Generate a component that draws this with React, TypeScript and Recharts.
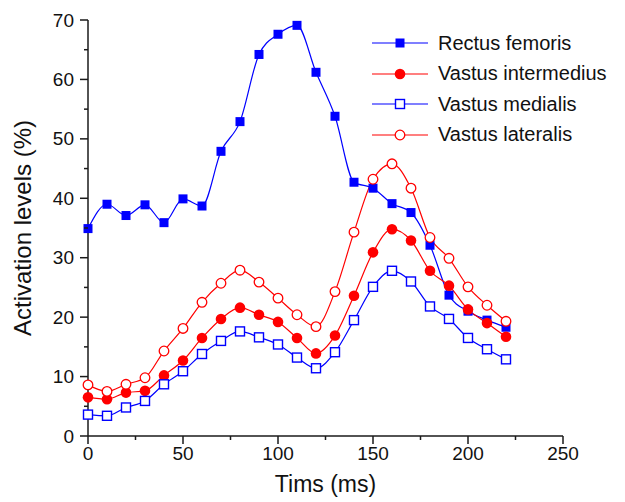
import { LineChart, Line, XAxis, YAxis, Legend } from 'recharts';

const times = [0, 10, 20, 30, 40, 50, 60, 70, 80, 90, 100, 110, 120, 130, 140, 150, 160, 170, 180, 190, 200, 210, 220];
const rectusFemoris = [34.9, 39.0, 37.1, 38.9, 35.9, 39.9, 38.7, 47.9, 52.9, 64.2, 67.6, 69.1, 61.2, 53.8, 42.7, 41.7, 39.1, 37.6, 32.1, 23.7, 21.0, 19.5, 18.3];
const vastusIntermedius = [6.5, 6.2, 7.3, 7.6, 10.2, 12.7, 16.5, 19.7, 21.6, 20.4, 19.2, 16.5, 13.9, 16.9, 23.6, 30.9, 34.8, 32.9, 27.8, 25.3, 21.3, 19.0, 16.7];
const vastusMedialis = [3.6, 3.4, 4.8, 5.9, 8.7, 10.9, 13.8, 16.0, 17.6, 16.6, 15.4, 13.2, 11.4, 14.1, 19.5, 25.1, 27.8, 26.0, 21.8, 19.7, 16.5, 14.6, 12.9];
const vastusLateralis = [8.6, 7.5, 8.7, 9.8, 14.3, 18.1, 22.5, 25.7, 27.9, 25.9, 23.2, 20.4, 18.4, 24.3, 34.3, 43.2, 45.8, 41.7, 33.4, 29.9, 25.1, 22.0, 19.3];

const xTicks = [0, 25, 50, 75, 100, 125, 150, 175, 200, 225, 250];
const yTicks = [0, 5, 10, 15, 20, 25, 30, 35, 40, 45, 50, 55, 60, 65, 70];

const BLUE = '#0000ff';
const RED = '#ff0000';
const AXIS = '#1a1a1a';
const FONT = '"Liberation Sans", Arial, sans-serif';

const series = [
  { key: 'rf', name: 'Rectus femoris', color: BLUE, shape: 'square', filled: true },
  { key: 'vi', name: 'Vastus intermedius', color: RED, shape: 'circle', filled: true },
  { key: 'vm', name: 'Vastus medialis', color: BLUE, shape: 'square', filled: false },
  { key: 'vl', name: 'Vastus lateralis', color: RED, shape: 'circle', filled: false },
];

const data = times.map((t, i) => ({
  time: t,
  rf: rectusFemoris[i],
  vi: vastusIntermedius[i],
  vm: vastusMedialis[i],
  vl: vastusLateralis[i],
}));

function Marker({ cx, cy, shape, filled, color }: any) {
  if (shape === 'square') {
    return filled ? (
      <rect x={cx - 4.5} y={cy - 4.5} width={9} height={9} fill={color} />
    ) : (
      <rect x={cx - 4.5} y={cy - 4.5} width={9} height={9} fill="#fff" stroke={color} strokeWidth={1.4} />
    );
  }
  return filled ? (
    <circle cx={cx} cy={cy} r={5.3} fill={color} />
  ) : (
    <circle cx={cx} cy={cy} r={4.8} fill="#fff" stroke={color} strokeWidth={1.3} />
  );
}

const YTick = (props: any) => {
  const { x, y, payload } = props;
  const major = payload.value % 10 === 0;
  return (
    <g>
      <line x1={x} x2={x - (major ? 8 : 4)} y1={y} y2={y} stroke={AXIS} strokeWidth={1.5} />
      {major && (
        <text x={x - 14} y={y} textAnchor="end" dominantBaseline="central" fontSize={19} fontFamily={FONT} fill="#111">
          {payload.value}
        </text>
      )}
    </g>
  );
};

const XTick = (props: any) => {
  const { x, y, payload } = props;
  const major = payload.value % 50 === 0;
  return (
    <g>
      <line x1={x} x2={x} y1={y} y2={y + (major ? 8 : 4)} stroke={AXIS} strokeWidth={1.5} />
      {major && (
        <text x={x} y={y + 17} textAnchor="middle" dominantBaseline="central" fontSize={19} fontFamily={FONT} fill="#111">
          {payload.value}
        </text>
      )}
    </g>
  );
};

const LegendBox = () => (
  <div style={{ fontFamily: FONT, fontSize: 20, color: '#111' }}>
    {series.map((s) => (
      <div key={s.key} style={{ display: 'flex', alignItems: 'center', height: 30.5 }}>
        <svg width={66} height={20}>
          <line x1={0} x2={56} y1={10} y2={10} stroke={s.color} strokeWidth={1.2} />
          <Marker cx={28} cy={10} shape={s.shape} filled={s.filled} color={s.color} />
        </svg>
        <span style={{ whiteSpace: 'nowrap' }}>{s.name}</span>
      </div>
    ))}
  </div>
);

export default function App() {
  return (
    <div style={{ position: 'absolute', left: 0, top: 0, background: '#fff' }}>
      <LineChart width={625} height={502} data={data} margin={{ top: 20, right: 62, bottom: 0, left: 0 }}>
        <XAxis
          dataKey="time"
          type="number"
          domain={[0, 250]}
          ticks={xTicks}
          interval={0}
          tickSize={0}
          tickMargin={0}
          tickLine={false}
          tick={<XTick />}
          height={66}
          axisLine={{ stroke: AXIS, strokeWidth: 1.5 }}
          label={{ value: 'Tims (ms)', position: 'insideBottom', offset: 10, fontSize: 23, fontFamily: FONT, fill: '#111' }}
        />
        <YAxis
          type="number"
          domain={[0, 70]}
          ticks={yTicks}
          interval={0}
          tickSize={0}
          tickMargin={0}
          tickLine={false}
          tick={<YTick />}
          width={88}
          axisLine={{ stroke: AXIS, strokeWidth: 1.5 }}
          label={{ value: 'Activation levels (%)', angle: -90, position: 'center', dx: -22, fontSize: 24, fontFamily: FONT, fill: '#111' }}
        />
        <Legend
          layout="vertical"
          align="center"
          verticalAlign="middle"
          content={<LegendBox />}
          wrapperStyle={{ position: 'absolute', left: 372, top: 28, width: 253, height: 125 }}
        />
        {series.map((s) => (
          <Line
            key={s.key}
            dataKey={s.key}
            name={s.name}
            type="monotone"
            stroke={s.color}
            strokeWidth={1.2}
            isAnimationActive={false}
            dot={(p: any) => <Marker key={`${s.key}-${p.index}`} cx={p.cx} cy={p.cy} shape={s.shape} filled={s.filled} color={s.color} />}
            activeDot={false}
          />
        ))}
      </LineChart>
    </div>
  );
}
